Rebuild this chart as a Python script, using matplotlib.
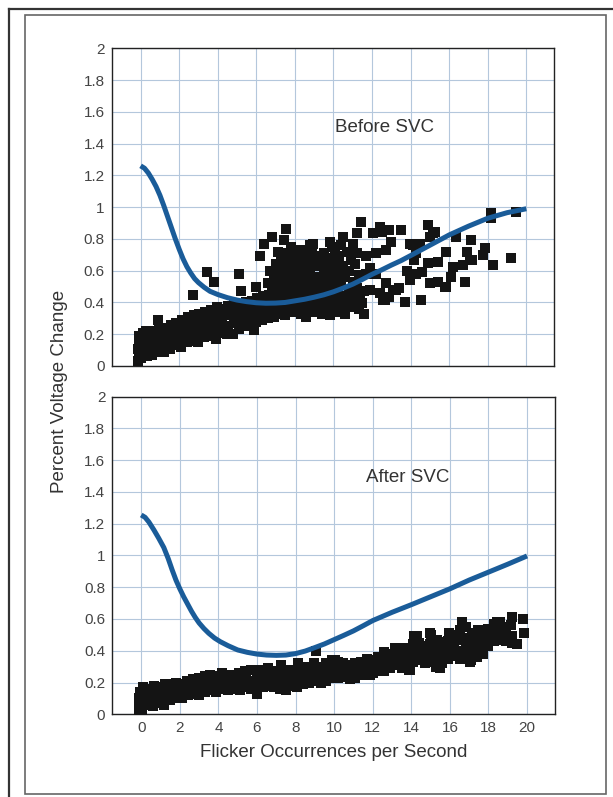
import numpy as np
import matplotlib.pyplot as plt
from matplotlib.lines import Line2D
from matplotlib.patches import Rectangle
from matplotlib.ticker import FuncFormatter

plt.rcParams['font.family'] = ['Liberation Sans', 'DejaVu Sans']

# limit curve drawn in each panel
before_curve_x = [0.0, 0.2, 0.4, 0.6, 0.8, 1.0, 1.2, 1.4, 1.6, 1.8, 2.0, 2.2, 2.4, 2.6,
                  2.8, 3.0, 3.3, 3.6, 4.0, 4.5, 5.0, 5.5, 6.0, 6.5, 7.0, 7.5, 8.0, 8.5,
                  9.0, 9.5, 10.0, 10.5, 11.0, 11.5, 12.0, 12.5, 13.0, 13.5, 14.0, 15.0,
                  16.0, 17.0, 18.0, 19.0, 20.0]
before_curve_y = [1.26, 1.245, 1.215, 1.175, 1.13, 1.075, 1.01, 0.94, 0.87, 0.80, 0.735, 0.675, 0.625, 0.585,
                  0.55, 0.525, 0.495, 0.47, 0.45, 0.43, 0.415, 0.405, 0.398, 0.395, 0.396, 0.40, 0.41, 0.42,
                  0.433, 0.448, 0.467, 0.49, 0.515, 0.545, 0.577, 0.605, 0.635, 0.663, 0.695, 0.76,
                  0.825, 0.88, 0.93, 0.965, 0.99]

after_curve_x = [0.0, 0.2, 0.4, 0.66, 0.9, 1.17, 1.4, 1.6, 1.8, 2.0, 2.2, 2.4, 2.6, 2.8,
                 3.0, 3.25, 3.5, 3.8, 4.1, 4.5, 5.0, 5.5, 6.0, 6.5, 7.0, 7.5, 8.0, 8.5,
                 9.0, 9.5, 10.0, 10.5, 11.0, 11.5, 12.0, 12.5, 13.0, 14.0, 15.0, 16.0,
                 17.0, 18.0, 19.0, 20.0]
after_curve_y = [1.255, 1.24, 1.21, 1.16, 1.11, 1.05, 0.98, 0.91, 0.845, 0.79, 0.74, 0.695, 0.65, 0.61,
                 0.575, 0.54, 0.51, 0.48, 0.457, 0.432, 0.405, 0.39, 0.379, 0.373, 0.371, 0.373, 0.382, 0.398,
                 0.42, 0.443, 0.47, 0.497, 0.525, 0.557, 0.59, 0.616, 0.642, 0.69, 0.74, 0.79,
                 0.845, 0.895, 0.945, 0.997]

# measured flicker, before compensation
before_x = [-0.12, -0.1, -0.12, -0.08, -0.1, 0.02, 0.05, 0.03, 0.06, 0.1, 0.18, 0.2, 0.24, 0.28,
            0.35, 0.4, 0.42, 0.46, 0.6, 0.62, 0.65, 0.6, 0.9, 0.88, 0.92, 0.95, 0.9,
            1.2, 1.22, 1.18, 1.25, 1.5, 1.48, 1.52, 1.55, 1.8, 1.82, 1.78, 1.85,
            2.1, 2.08, 2.12, 2.15, 2.4, 2.42, 2.38, 2.45, 2.7, 2.72, 2.68, 2.75,
            3.0, 3.02, 2.98, 3.05, 3.3, 3.32, 3.28, 3.35, 3.6, 3.62, 3.58, 3.65,
            3.9, 3.92, 3.88, 3.95, 4.2, 4.22, 4.18, 4.25, 4.5, 4.52, 4.48, 4.55,
            4.8, 4.82, 4.78, 4.85, 5.1, 5.12, 5.08, 5.15, 5.4, 5.42, 5.38, 5.45,
            5.7, 5.72, 5.68, 5.75, 6.0, 6.02, 5.98, 6.05, 6.3, 6.32, 6.28, 6.35,
            6.6, 6.62, 6.58, 6.65, 6.9, 6.92, 6.88, 6.95,
            2.73, 3.45, 3.8, 5.1, 5.23, 5.9, 6.0, 6.2, 6.4, 6.8, 7.44, 7.56,
            7.1, 7.5, 7.9, 8.3, 8.6, 9.0, 9.4, 9.8, 10.2, 10.6,
            6.9, 7.3, 7.7, 8.1, 8.5, 8.9, 9.3, 9.7, 10.0, 10.4, 10.9, 11.3,
            7.0, 7.4, 7.8, 8.2, 8.7, 9.1, 9.5, 9.9, 10.3, 10.7, 11.1,
            7.2, 7.6, 8.0, 8.4, 8.8, 9.2, 9.6, 10.1, 10.5, 10.9, 11.4,
            6.8, 7.3, 7.8, 8.2, 8.6, 9.0, 9.4, 9.8, 10.2, 10.8, 11.2, 11.6,
            6.6, 7.1, 7.5, 7.9, 8.3, 8.8, 9.2, 9.6, 10.0, 10.4, 11.0,
            6.9, 7.3, 7.7, 8.1, 8.5, 8.9, 9.3, 9.7, 10.1, 10.6, 11.3,
            6.7, 7.2, 7.6, 8.0, 8.4, 8.8, 9.5, 9.9, 10.3, 10.8,
            7.0, 7.4, 7.9, 8.3, 8.7, 9.1, 9.6, 10.0, 10.5, 11.1,
            7.3, 7.7, 8.2, 8.6, 9.0, 9.4, 9.8, 10.3, 10.9,
            7.1, 7.6, 8.5, 8.9, 9.5, 10.1, 10.7, 11.2, 7.8, 8.8, 9.9, 10.4,
            8.0, 8.95, 9.8, 10.5, 11.45, 11.2, 12.4, 12.9, 13.5, 14.9, 15.25, 16.37,
            17.15, 18.19, 18.19, 19.48, 19.2, 18.27, 17.75, 17.2, 16.7, 16.2, 15.85, 16.8,
            15.85, 15.4, 16.1, 14.9, 15.4, 14.56, 13.7, 13.4, 13.1, 12.66, 12.4, 14.3,
            14.3, 13.95, 14.6, 12.2, 11.7, 11.6, 11.5, 10.85, 11.9, 12.75, 11.7, 12.2,
            12.75, 12.05, 12.5, 11.2, 11.0, 13.95, 14.47, 15.0, 15.16, 13.0, 12.57, 14.1,
            17.84, 16.9, 17.06, 15.77, 15.0, 13.26, 12.9, 11.28, 10.5, 13.8, 14.2, 11.9]
before_y = [0.03, 0.07, 0.11, 0.15, 0.19, 0.05, 0.09, 0.14, 0.18, 0.21, 0.08, 0.12, 0.17, 0.22,
            0.06, 0.11, 0.16, 0.2, 0.07, 0.12, 0.17, 0.22, 0.09, 0.14, 0.19, 0.23, 0.29,
            0.09, 0.13, 0.18, 0.24, 0.11, 0.16, 0.21, 0.26, 0.13, 0.17, 0.22, 0.27,
            0.12, 0.18, 0.24, 0.29, 0.15, 0.2, 0.25, 0.31, 0.16, 0.21, 0.27, 0.32,
            0.15, 0.2, 0.26, 0.33, 0.18, 0.23, 0.28, 0.34, 0.19, 0.24, 0.3, 0.35,
            0.17, 0.23, 0.29, 0.37, 0.21, 0.26, 0.31, 0.36, 0.2, 0.25, 0.32, 0.38,
            0.2, 0.27, 0.33, 0.39, 0.23, 0.28, 0.34, 0.38, 0.25, 0.3, 0.35, 0.4,
            0.27, 0.31, 0.36, 0.41, 0.28, 0.33, 0.38, 0.43, 0.29, 0.34, 0.39, 0.44,
            0.3, 0.35, 0.4, 0.45, 0.31, 0.36, 0.42, 0.47,
            0.447, 0.59, 0.53, 0.577, 0.47, 0.227, 0.5, 0.69, 0.77, 0.81, 0.79, 0.86,
            0.33, 0.32, 0.34, 0.33, 0.31, 0.34, 0.33, 0.32, 0.34, 0.33,
            0.36, 0.37, 0.35, 0.36, 0.37, 0.35, 0.36, 0.37, 0.36, 0.35, 0.37, 0.36,
            0.40, 0.41, 0.39, 0.40, 0.41, 0.40, 0.39, 0.41, 0.40, 0.39, 0.41,
            0.44, 0.43, 0.45, 0.44, 0.43, 0.45, 0.44, 0.43, 0.44, 0.45, 0.43,
            0.48, 0.49, 0.47, 0.48, 0.49, 0.47, 0.48, 0.49, 0.47, 0.48, 0.49, 0.47,
            0.52, 0.53, 0.51, 0.52, 0.53, 0.51, 0.52, 0.53, 0.51, 0.52, 0.53,
            0.56, 0.57, 0.55, 0.56, 0.57, 0.55, 0.56, 0.57, 0.55, 0.56, 0.57,
            0.60, 0.61, 0.59, 0.60, 0.61, 0.59, 0.60, 0.61, 0.59, 0.60,
            0.64, 0.65, 0.63, 0.64, 0.65, 0.63, 0.64, 0.65, 0.63, 0.64,
            0.68, 0.69, 0.67, 0.68, 0.69, 0.67, 0.68, 0.69, 0.67,
            0.72, 0.71, 0.73, 0.72, 0.71, 0.73, 0.72, 0.71, 0.75, 0.76, 0.75, 0.76,
            0.73, 0.77, 0.78, 0.81, 0.908, 0.835, 0.877, 0.856, 0.856, 0.887, 0.845, 0.81,
            0.79, 0.96, 0.93, 0.97, 0.68, 0.636, 0.70, 0.667, 0.636, 0.625, 0.72, 0.53,
            0.50, 0.53, 0.56, 0.646, 0.656, 0.415, 0.405, 0.49, 0.48, 0.415, 0.457, 0.71,
            0.58, 0.54, 0.59, 0.58, 0.58, 0.33, 0.395, 0.436, 0.478, 0.52, 0.69, 0.71,
            0.73, 0.835, 0.845, 0.835, 0.77, 0.77, 0.77, 0.81, 0.835, 0.78, 0.415, 0.76,
            0.74, 0.72, 0.667, 0.50, 0.52, 0.48, 0.437, 0.39, 0.35, 0.60, 0.667, 0.62]

# measured flicker, after compensation
after_x = [-0.1, -0.12, -0.1, -0.08, 0.05, 0.08, 0.05, 0.1, 0.25, 0.28, 0.3,
           0.6, 0.62, 0.58, 0.64, 0.9, 0.92, 0.88, 1.2, 1.22, 1.18, 1.24,
           1.5, 1.52, 1.48, 1.8, 1.82, 1.78, 2.1, 2.12, 2.08, 2.4, 2.42, 2.38,
           2.7, 2.72, 2.68, 3.0, 3.02, 2.98, 3.3, 3.32, 3.28, 3.6, 3.62, 3.58,
           3.9, 3.92, 3.88, 4.2, 4.22, 4.18, 4.5, 4.52, 4.48, 4.8, 4.82, 4.78,
           5.1, 5.12, 5.08, 5.4, 5.42, 5.38, 5.7, 5.72, 5.68, 6.0, 6.02, 5.98, 6.04,
           6.3, 6.32, 6.28, 6.6, 6.62, 6.58, 6.9, 6.92, 6.88, 7.2, 7.22, 7.18, 7.24,
           7.5, 7.52, 7.48, 7.8, 7.82, 7.78, 8.1, 8.12, 8.08, 8.14, 8.4, 8.42, 8.38,
           8.7, 8.72, 8.68, 9.0, 9.02, 8.98, 9.04, 9.3, 9.32, 9.28, 9.6, 9.62, 9.58,
           9.9, 9.92, 9.88, 10.2, 10.22, 10.18, 10.5, 10.52, 10.48, 10.8, 10.82, 10.78,
           11.1, 11.12, 11.08, 11.4, 11.42, 11.38, 11.7, 11.72, 11.68, 12.0, 12.02, 11.98,
           12.3, 12.32, 12.28, 12.6, 12.62, 12.58, 12.9, 12.92, 12.88, 13.2, 13.22, 13.18,
           13.5, 13.52, 13.48, 13.8, 13.82, 13.78, 13.9, 14.1, 14.12, 14.08, 14.14,
           14.4, 14.42, 14.38, 14.7, 14.72, 14.68, 15.0, 15.02, 14.98, 15.04,
           15.3, 15.32, 15.28, 15.34, 15.6, 15.62, 15.58, 15.9, 15.92, 15.88, 15.94,
           16.2, 16.22, 16.18, 16.5, 16.52, 16.48, 16.54, 16.8, 16.82, 16.78, 16.84,
           17.1, 17.12, 17.08, 17.14, 17.4, 17.42, 17.38, 17.44, 17.7, 17.72, 17.68,
           18.0, 18.02, 17.98, 18.3, 18.32, 18.28, 18.6, 18.62, 18.58, 18.9, 18.92, 18.88,
           19.2, 19.22, 19.18, 19.24, 19.5, 19.8, 19.85,
           16.63, 18.45, 18.87, 14.99, 14.3, 13.35, 12.57, 10.07, 13.95, 15.5, 17.06,
           17.4, 17.75, 10.5, 11.88, 13.09, 15.85, 16.46, 16.54, 16.9, 18.1, 18.27, 19.13]
after_y = [0.01, 0.05, 0.1, 0.14, 0.03, 0.08, 0.12, 0.17, 0.06, 0.11, 0.16,
           0.05, 0.1, 0.15, 0.18, 0.07, 0.12, 0.17, 0.06, 0.11, 0.16, 0.19,
           0.09, 0.14, 0.19, 0.1, 0.15, 0.2, 0.1, 0.15, 0.19, 0.12, 0.16, 0.21,
           0.13, 0.17, 0.22, 0.12, 0.18, 0.23, 0.14, 0.19, 0.24, 0.15, 0.2, 0.25,
           0.14, 0.19, 0.24, 0.16, 0.21, 0.26, 0.15, 0.2, 0.25, 0.16, 0.21, 0.25,
           0.15, 0.2, 0.26, 0.17, 0.22, 0.27, 0.16, 0.21, 0.28, 0.13, 0.19, 0.24, 0.28,
           0.17, 0.22, 0.27, 0.18, 0.23, 0.29, 0.17, 0.22, 0.27, 0.16, 0.21, 0.26, 0.31,
           0.15, 0.21, 0.27, 0.18, 0.23, 0.28, 0.17, 0.22, 0.27, 0.32, 0.19, 0.24, 0.3,
           0.2, 0.25, 0.3, 0.21, 0.26, 0.32, 0.4, 0.2, 0.25, 0.3, 0.21, 0.27, 0.32,
           0.23, 0.28, 0.34, 0.23, 0.28, 0.33, 0.24, 0.29, 0.32, 0.22, 0.27, 0.31,
           0.23, 0.28, 0.32, 0.25, 0.29, 0.33, 0.25, 0.3, 0.35, 0.26, 0.3, 0.34,
           0.27, 0.31, 0.36, 0.27, 0.33, 0.39, 0.29, 0.34, 0.38, 0.31, 0.36, 0.42,
           0.29, 0.34, 0.4, 0.31, 0.36, 0.42, 0.28, 0.33, 0.38, 0.44, 0.49,
           0.34, 0.4, 0.45, 0.32, 0.37, 0.43, 0.33, 0.38, 0.44, 0.5,
           0.3, 0.36, 0.42, 0.47, 0.32, 0.38, 0.44, 0.35, 0.41, 0.46, 0.51,
           0.37, 0.43, 0.49, 0.35, 0.4, 0.47, 0.53, 0.36, 0.42, 0.48, 0.55,
           0.34, 0.39, 0.45, 0.51, 0.36, 0.41, 0.47, 0.53, 0.38, 0.44, 0.5,
           0.43, 0.48, 0.54, 0.46, 0.51, 0.57, 0.47, 0.52, 0.58, 0.46, 0.5, 0.55,
           0.45, 0.49, 0.56, 0.61, 0.44, 0.6, 0.51,
           0.583, 0.583, 0.55, 0.51, 0.49, 0.415, 0.394, 0.34, 0.28, 0.29, 0.33,
           0.405, 0.468, 0.237, 0.247, 0.31, 0.457, 0.5, 0.394, 0.36, 0.467, 0.53, 0.49]

x_ticks = list(range(0, 21, 2))
y_ticks = [0, 0.2, 0.4, 0.6, 0.8, 1, 1.2, 1.4, 1.6, 1.8, 2]
panel_titles = ['Before SVC', 'After SVC']

curve_col = '#1a5c99'
text_col = '#333333'
grid_col = '#b4c7dc'

fig = plt.figure(figsize=(6.13, 7.97), dpi=100)
ax1 = fig.add_axes([0.1822, 0.5408, 0.7220, 0.3986])
ax2 = fig.add_axes([0.1832, 0.1038, 0.7222, 0.3985])

panels = [(ax1, before_x, before_y, before_curve_x, before_curve_y, (12.66, 1.50)),
          (ax2, after_x, after_y, after_curve_x, after_curve_y, (13.8, 1.49))]

for k, (ax, sx, sy, cx, cy, tpos) in enumerate(panels):
    ax.set_xlim(-1.5, 21.45)
    ax.set_ylim(0, 2)
    ax.set_xticks(x_ticks)
    ax.set_yticks(y_ticks)
    ax.grid(True, color=grid_col, linewidth=0.8)
    ax.set_axisbelow(True)
    ax.scatter(sx, sy, marker='s', s=42, color='#141414', linewidths=0, zorder=3)
    ax.plot(cx, cy, color=curve_col, linewidth=3.6, solid_capstyle='butt', zorder=4)
    ax.text(tpos[0], tpos[1], panel_titles[k], ha='center', va='center',
            fontsize=13.5, color=text_col)
    ax.yaxis.set_major_formatter(FuncFormatter(lambda v, p: '%g' % v))
    ax.tick_params(length=0, labelsize=11, labelcolor='#444444', pad=5)
    for sp in ax.spines.values():
        sp.set_color('#222222')
        sp.set_linewidth(1.0)

ax1.tick_params(axis='x', labelbottom=False)
ax2.set_xlabel('Flicker Occurrences per Second', fontsize=13.5, color=text_col, labelpad=6)
fig.text(60 / 613, 1 - 391 / 797, 'Percent Voltage Change', rotation=90,
         ha='center', va='center', fontsize=13.5, color=text_col)

# page frame
fig.add_artist(Line2D([9 / 613, 1.0], [1 - 9 / 797, 1 - 9 / 797],
                      transform=fig.transFigure, color='#333333', linewidth=1.6))
fig.add_artist(Line2D([9 / 613, 9 / 613], [0.0, 1 - 9 / 797],
                      transform=fig.transFigure, color='#333333', linewidth=1.6))
fig.add_artist(Rectangle((25 / 613, 1 - 794 / 797), 581 / 613, 779 / 797,
                         transform=fig.transFigure, fill=False,
                         edgecolor='#666666', linewidth=1.2))

plt.savefig('out.png', dpi=100)
